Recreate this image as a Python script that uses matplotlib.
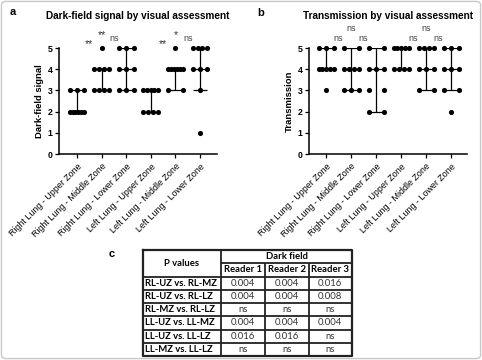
import matplotlib
matplotlib.use('Agg')
import matplotlib.pyplot as plt
import numpy as np
from matplotlib.patches import FancyBboxPatch


zones = ['Right Lung - Upper Zone', 'Right Lung - Middle Zone', 'Right Lung - Lower Zone',
         'Left Lung - Upper Zone', 'Left Lung - Middle Zone', 'Left Lung - Lower Zone']

# individual scores per zone
dark_field = [
    [2, 2, 2, 2, 2, 2, 3, 3, 3],
    [3, 3, 3, 3, 4, 4, 4, 4, 5],
    [3, 3, 3, 4, 4, 4, 5, 5, 5],
    [2, 2, 2, 2, 3, 3, 3, 3, 3],
    [3, 3, 4, 4, 4, 4, 4, 4, 5],
    [1, 3, 4, 4, 4, 5, 5, 5, 5],
]
df_median = [2, 4, 4, 3, 4, 4]
df_q1 = [2, 3, 3, 2, 3, 3]
df_q3 = [3, 4, 5, 3, 4, 5]
df_signif = ['**', '**', 'ns', '**', '*', 'ns']

transmission = [
    [3, 4, 4, 4, 4, 4, 5, 5, 5],
    [3, 3, 3, 4, 4, 4, 4, 5, 5],
    [2, 2, 3, 3, 4, 4, 4, 5, 5],
    [4, 4, 4, 4, 5, 5, 5, 5, 5],
    [3, 3, 4, 4, 4, 5, 5, 5, 5],
    [2, 3, 3, 4, 4, 4, 5, 5, 5],
]
tr_median = [4, 4, 4, 5, 4, 4]
tr_q1 = [4, 3, 2, 4, 3, 3]
tr_q3 = [5, 5, 5, 5, 5, 5]
tr_signif = ['ns', 'ns', 'ns', 'ns', 'ns', 'ns']

comparisons = ['RL-UZ vs. RL-MZ', 'RL-UZ vs. RL-LZ', 'RL-MZ vs. RL-LZ',
               'LL-UZ vs. LL-MZ', 'LL-UZ vs. LL-LZ', 'LL-MZ vs. LL-LZ']
readers = ['Reader 1', 'Reader 2', 'Reader 3']
p_values = [
    ['0.004', '0.004', '0.016'],
    ['0.004', '0.004', '0.008'],
    ['ns', 'ns', 'ns'],
    ['0.004', '0.004', '0.004'],
    ['0.016', '0.016', 'ns'],
    ['ns', 'ns', 'ns'],
]

FONT = ['Liberation Sans', 'DejaVu Sans']
SPREAD = 0.3


def dot_panel(ax, data, med, q1, q3, signif, title, ylabel, xlim):
    for i, vals in enumerate(data):
        vals = np.array(vals)
        for v in np.unique(vals):
            k = int((vals == v).sum())
            offs = np.linspace(-SPREAD, SPREAD, k) if k > 1 else np.array([0.0])
            ax.plot(i + offs, [v] * k, 'o', color='black', ms=3.7, mew=0,
                    clip_on=False, zorder=3)
        ax.vlines(i, q1[i], q3[i], color='black', lw=0.9, zorder=2)
        ax.hlines([q1[i], med[i], q3[i]], i - SPREAD, i + SPREAD,
                  color='black', lw=0.9, zorder=2)

    # significance marks: UZ-MZ, UZ-LZ, MZ-LZ for each lung
    for j, s in enumerate(signif):
        base = 3 * (j // 3)
        x = base + [0.5, 1.0, 1.5][j % 3]
        y = 5.9 if j % 3 == 1 else 5.47
        if s == 'ns':
            ax.text(x, y, s, ha='center', va='center', fontsize=6.5, color='#444444',
                    family=FONT, clip_on=False)
        else:
            ax.text(x, y - 0.27, s, ha='center', va='center', fontsize=7.5,
                    color='#333333', family=FONT, clip_on=False)

    ax.set_xlim(*xlim)
    ax.set_ylim(0, 5)
    ax.set_yticks(range(6))
    ax.set_yticklabels([str(t) for t in range(6)], fontweight='bold', fontsize=6.3,
                       family=FONT)
    ax.set_xticks(range(len(zones)))
    ax.set_xticklabels(zones, rotation=45, ha='right', rotation_mode='anchor',
                       fontsize=6.4, family=FONT)
    ax.tick_params(length=3, width=0.9, pad=1.5)
    ax.tick_params(axis='x', pad=2.5)
    for side in ['top', 'right']:
        ax.spines[side].set_visible(False)
    for side in ['left', 'bottom']:
        ax.spines[side].set_linewidth(1.1)
    ax.set_ylabel(ylabel, fontweight='bold', fontsize=6.8, family=FONT, labelpad=3)
    ax.set_title(title, fontweight='bold', fontsize=7.2, family=FONT, pad=21)


fig = plt.figure(figsize=(4.82, 3.6), dpi=100)

ax_a = fig.add_axes([59 / 482, 1 - 154 / 360, 158 / 482, 106 / 360])
dot_panel(ax_a, dark_field, df_median, df_q1, df_q3, df_signif,
          'Dark-field signal by visual assessment', 'Dark-field signal', (-0.73, 5.69))

ax_b = fig.add_axes([309 / 482, 1 - 154 / 360, 158 / 482, 106 / 360])
dot_panel(ax_b, transmission, tr_median, tr_q1, tr_q3, tr_signif,
          'Transmission by visual assessment', 'Transmission', (-0.68, 5.64))

# panel letters
fig.text(10 / 482, 1 - 12 / 360, 'a', fontsize=8, fontweight='bold', va='center', family=FONT)
fig.text(257 / 482, 1 - 13 / 360, 'b', fontsize=8, fontweight='bold', va='center', family=FONT)
fig.text(109 / 482, 1 - 254 / 360, 'c', fontsize=8, fontweight='bold', va='center', family=FONT)

# table c, drawn in pixel coordinates
tab = fig.add_axes([0, 0, 1, 1], zorder=-1)
tab.set_xlim(0, 482)
tab.set_ylim(360, 0)
tab.axis('off')

col_x = [143, 221, 265, 308.5, 352]
n_rows = 2 + len(comparisons)
row_y = np.linspace(250, 356, n_rows + 1)
TFONT = ['Lato', 'DejaVu Sans']
lc = '#222222'
lw = 1.3

tab.plot([col_x[0], col_x[-1], col_x[-1], col_x[0], col_x[0]],
         [row_y[0], row_y[0], row_y[-1], row_y[-1], row_y[0]], color=lc, lw=1.6)
tab.vlines(col_x[1], row_y[0], row_y[-1], color=lc, lw=lw)
tab.vlines(col_x[2:4], row_y[1], row_y[-1], color=lc, lw=lw)
tab.hlines(row_y[1], col_x[1], col_x[-1], color=lc, lw=lw)
tab.hlines(row_y[2:-1], col_x[0], col_x[-1], color=lc, lw=lw)

tab.text((col_x[0] + col_x[1]) / 2, row_y[1], 'P values', ha='center', va='center',
         fontsize=6.8, fontweight='bold', family=TFONT)
tab.text((col_x[1] + col_x[-1]) / 2, (row_y[0] + row_y[1]) / 2, 'Dark field',
         ha='center', va='center', fontsize=6.8, fontweight='bold', family=TFONT)
for c, r in enumerate(readers):
    tab.text((col_x[c + 1] + col_x[c + 2]) / 2, (row_y[1] + row_y[2]) / 2, r,
             ha='center', va='center', fontsize=6.8, fontweight='bold', family=TFONT)
for i, comp in enumerate(comparisons):
    yc = (row_y[i + 2] + row_y[i + 3]) / 2
    tab.text(col_x[0] + 2, yc, comp, ha='left', va='center', fontsize=6.8,
             fontweight='bold', family=TFONT)
    for c in range(3):
        tab.text((col_x[c + 1] + col_x[c + 2]) / 2, yc, p_values[i][c], ha='center',
                 va='center', fontsize=6.8, family=TFONT, color='#333333')

# light frame round the whole figure
fig.patches.append(FancyBboxPatch((0.003, 0.004), 0.994, 0.992,
                                  boxstyle='round,pad=0,rounding_size=0.01',
                                  transform=fig.transFigure, fill=False,
                                  edgecolor='#c8c8c8', lw=1.0))

fig.savefig('out.png', dpi=100)
